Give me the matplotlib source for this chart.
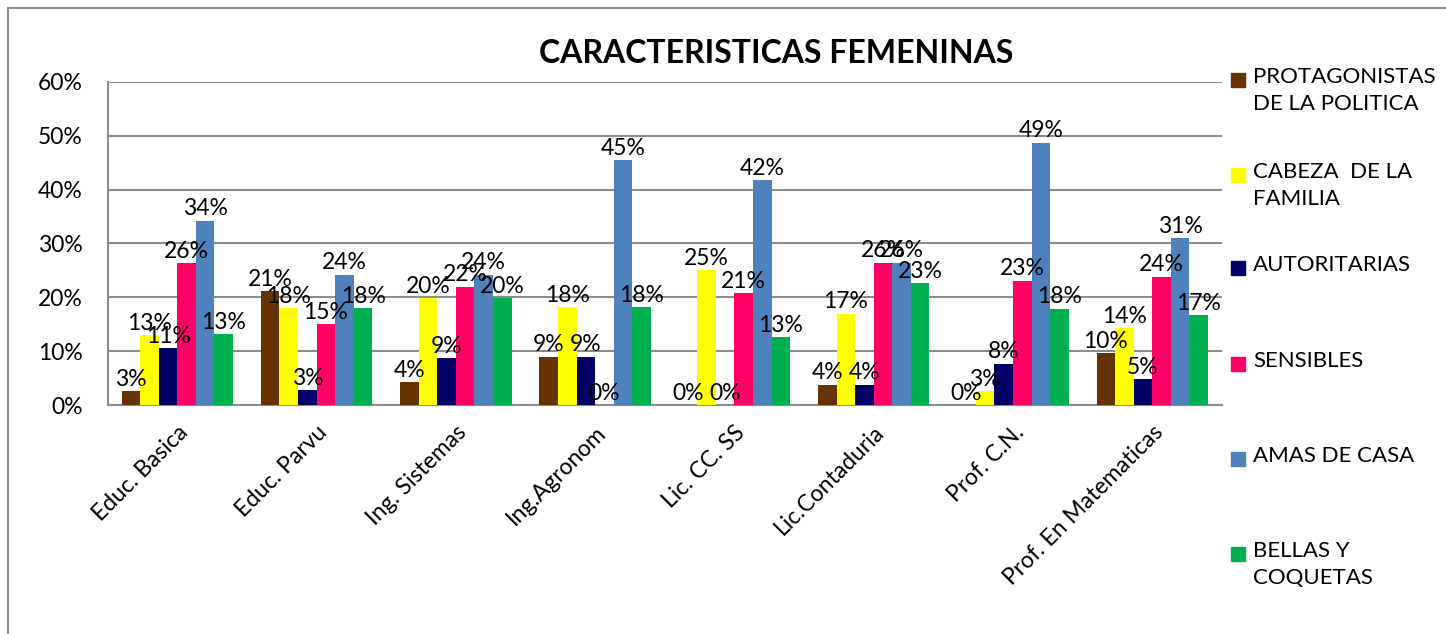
"""
Caracteristicas femeninas - clustered bars by carrera
"""
import matplotlib
matplotlib.use('Agg')
import matplotlib.pyplot as plt
from matplotlib.patches import Rectangle
import numpy as np

plt.rcParams['font.family'] = ['Lato', 'DejaVu Sans']

carreras = ['Educ. Basica', 'Educ. Parvu', 'Ing. Sistemas', 'Ing.Agronom',
            'Lic. CC. SS', 'Lic.Contaduria', 'Prof. C.N.', 'Prof. En Matematicas']

series = ['PROTAGONISTAS\nDE LA POLITICA', 'CABEZA  DE LA\nFAMILIA', 'AUTORITARIAS',
          'SENSIBLES', 'AMAS DE CASA', 'BELLAS Y\nCOQUETAS']

# percent values per serie, one per carrera
protagonistas = [2.6, 21.1, 4.3, 9.0, 0.0, 3.8, 0.0, 9.6]
cabeza = [13.0, 18.0, 19.8, 18.2, 25.0, 17.0, 2.6, 14.3]
autoritarias = [10.6, 2.8, 8.7, 9.0, 0.0, 3.8, 7.7, 4.8]
sensibles = [26.3, 15.0, 22.0, 0.0, 20.8, 26.4, 23.1, 23.8]
amas = [34.2, 24.2, 24.2, 45.4, 41.7, 26.4, 48.7, 31.0]
bellas = [13.2, 18.0, 19.8, 18.2, 12.6, 22.6, 17.9, 16.7]

colors = ['#663300', '#FFFF00', '#000066', '#FF0066', '#4F81BD', '#00B050']
data = [protagonistas, cabeza, autoritarias, sensibles, amas, bellas]

fig = plt.figure(figsize=(14.46, 6.34), dpi=100)
ax = fig.add_axes([0.0745, 0.361, 0.7705, 0.510])

x = np.arange(len(carreras))
w = 0.8 / 6
for i, vals in enumerate(data):
    v = np.array(vals) / 100
    bars = ax.bar(x + (i - 2.5) * w, v, w, color=colors[i], zorder=3)
    ax.bar_label(bars, labels=['%d%%' % round(p) for p in vals],
                 padding=1, fontsize=16.5, zorder=4)

ax.set_xlim(-0.5, len(carreras) - 0.5)
ax.set_ylim(0, 0.6)
ax.set_yticks(np.arange(0, 0.61, 0.1))
ax.set_yticklabels(['%d%%' % t for t in range(0, 61, 10)])
ax.set_xticks(x)
ax.set_xticklabels(carreras, rotation=45, ha='right', rotation_mode='anchor')
ax.tick_params(axis='both', length=0, labelsize=16.5)
ax.tick_params(axis='y', pad=18)
ax.tick_params(axis='x', pad=12)
ax.grid(axis='y', color='#8c8c8c', linewidth=1.5, zorder=0)
for s in ['top', 'right']:
    ax.spines[s].set_visible(False)
for s in ['left', 'bottom']:
    ax.spines[s].set_color('#8c8c8c')
    ax.spines[s].set_linewidth(1.5)

fig.text(0.537, 0.916, 'CARACTERISTICAS FEMENINAS', ha='center', va='center',
         fontsize=23, fontweight='bold')

# legend drawn like the excel one: evenly spaced entries
W, H = 1446, 634
tops = [80, 175, 268, 364, 459, 554]
for i, lab in enumerate(series):
    y = tops[i]
    fig.patches.append(Rectangle((1231 / W, 1 - (y + 7) / H), 14 / W, 14 / H,
                                 transform=fig.transFigure, color=colors[i]))
    fig.text(1253 / W, 1 - (y - 13) / H, lab, ha='left', va='top',
             fontsize=16, linespacing=1.45)

# outer chart border
fig.patches.append(Rectangle((8 / W, -0.1), 1.2, 1 - 8 / H + 0.1,
                             transform=fig.transFigure, fill=False,
                             edgecolor='#8c8c8c', linewidth=1.5))

plt.savefig('out.png', dpi=100)
